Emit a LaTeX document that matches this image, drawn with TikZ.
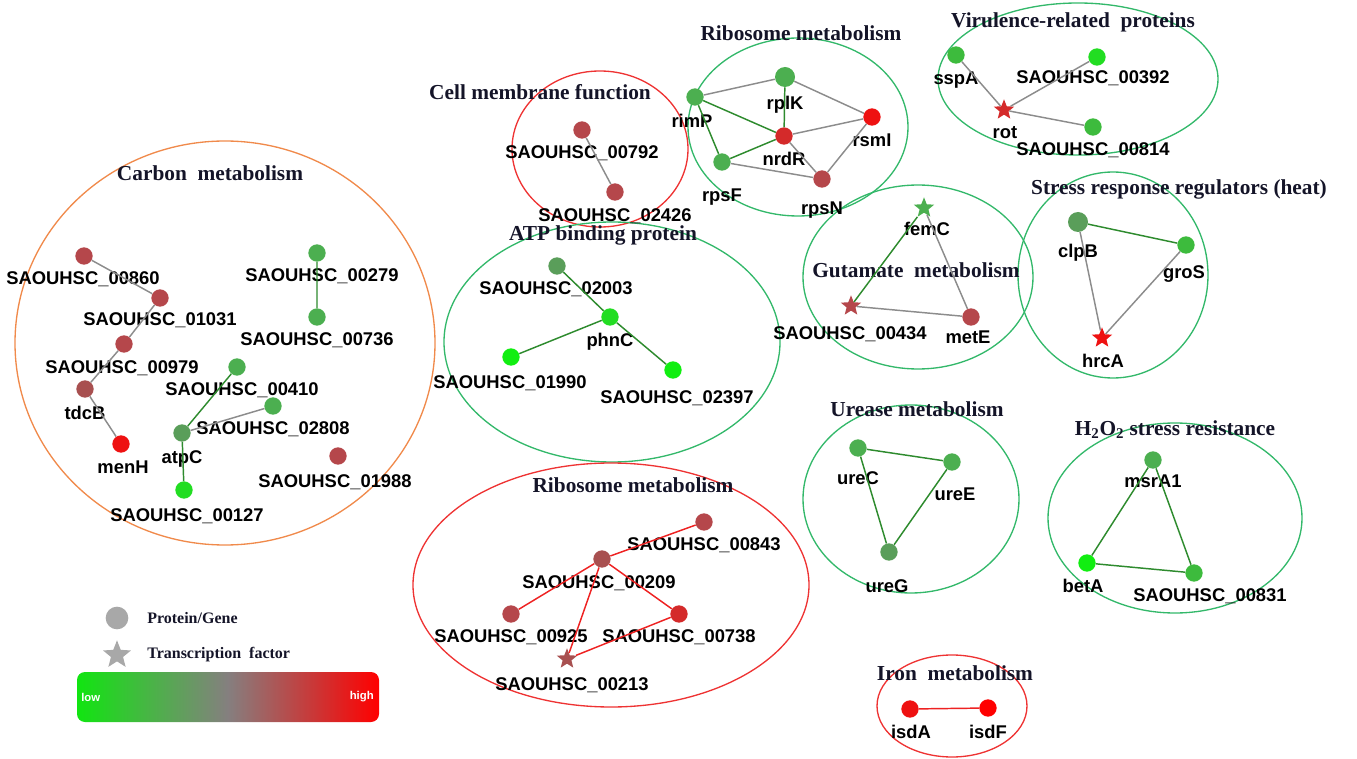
\documentclass[tikz,border=0pt]{standalone}
\usepackage{fontspec}
\setmainfont{Liberation Serif}
\newfontfamily\genefont{Liberation Sans}
\usetikzlibrary{shapes.geometric}

\definecolor{cHiRed}{HTML}{EE1111}
\definecolor{cMidRed}{HTML}{D42A2A}
\definecolor{cBrick}{HTML}{B5474B}
\definecolor{cDullRed}{HTML}{A85050}
\definecolor{cLime}{HTML}{11EE11}
\definecolor{cBright}{HTML}{22DD22}
\definecolor{cLeaf}{HTML}{3DBB3D}
\definecolor{cMid}{HTML}{4CAF50}
\definecolor{cDull}{HTML}{5A9E5A}
\definecolor{cEdgeGray}{HTML}{8C8C8C}
\definecolor{cEdgeGreen}{HTML}{2E8B2E}
\definecolor{cEdgeRed}{HTML}{EE2222}
\definecolor{cRingOrange}{HTML}{F08A4B}
\definecolor{cRingGreen}{HTML}{33B86A}
\definecolor{cRingRed}{HTML}{EE3333}
\definecolor{cTitle}{HTML}{141428}
\definecolor{cLegend}{HTML}{A8A8A8}
\definecolor{cBarLow}{HTML}{11E511}
\definecolor{cBarMid}{HTML}{857F7F}
\definecolor{cBarHigh}{HTML}{FF0000}

\begin{document}
\begin{tikzpicture}[x=0.75pt, y=-0.75pt,
  gene/.style={circle, inner sep=0pt, minimum size=13pt},
  tf/.style={star, star points=5, star point ratio=2.3, inner sep=0pt, minimum size=16pt},
  lbl/.style={font=\genefont\bfseries\fontsize{13.8}{15}\selectfont, inner sep=0pt, text height=9.9pt, text depth=0pt},
  ttl/.style={font=\bfseries\fontsize{16}{18}\selectfont, text=cTitle, inner sep=0pt, text height=10.6pt, text depth=0pt},
  lgray/.style={draw=cEdgeGray, line width=1.1pt},
  lgreen/.style={draw=cEdgeGreen, line width=1.1pt},
  lred/.style={draw=cEdgeRed, line width=1.1pt},
  ringO/.style={draw=cRingOrange, line width=1pt},
  ringG/.style={draw=cRingGreen, line width=1pt},
  ringR/.style={draw=cRingRed, line width=1pt}]
  \useasboundingbox (0,0) rectangle (1357,759);

  % group outlines
  \draw[ringO] (225,343) ellipse [x radius=210, y radius=202];
  \draw[ringR] (600,149) ellipse [x radius=88, y radius=78];
  \draw[ringG] (798,127) ellipse [x radius=110, y radius=89];
  \draw[ringG] (1078,79) ellipse [x radius=140, y radius=76];
  \draw[ringG] (612,342) ellipse [x radius=168, y radius=120];
  \draw[ringG] (918,277) ellipse [x radius=115, y radius=92];
  \draw[ringG] (1113,275) ellipse [x radius=95, y radius=103];
  \draw[ringR] (611,585) ellipse [x radius=198, y radius=122];
  \draw[ringG] (911,499) ellipse [x radius=108, y radius=94];
  \draw[ringG] (1175,518) ellipse [x radius=127, y radius=95];
  \draw[ringR] (952,706) ellipse [x radius=75, y radius=51];

  % Carbon metabolism
  \node[ttl] (tCarbon) at (210,173) {Carbon\ \ metabolism};
  \node[gene, fill=cBrick] (n00860) at (84,256) {};
  \node[lbl] (l00860) at (83,278) {SAOUHSC\_00860};
  \node[gene, fill=cBrick] (n01031) at (160,298) {};
  \node[lbl] (l01031) at (160,319) {SAOUHSC\_01031};
  \node[gene, fill=cBrick] (n00979) at (124,344) {};
  \node[lbl] (l00979) at (122,367) {SAOUHSC\_00979};
  \node[gene, fill=cDullRed] (tdcB) at (85,389) {};
  \node[lbl] (ltdcB) at (85,413) {tdcB};
  \node[gene, fill=cHiRed] (menH) at (121,444) {};
  \node[lbl] (lmenH) at (123,467) {menH};
  \node[gene, fill=cMid] (n00279) at (317,253) {};
  \node[lbl] (l00279) at (322,275) {SAOUHSC\_00279};
  \node[gene, fill=cMid] (n00736) at (317,317) {};
  \node[lbl] (l00736) at (317,339) {SAOUHSC\_00736};
  \node[gene, fill=cMid] (n00410) at (237,367) {};
  \node[lbl] (l00410) at (242,389) {SAOUHSC\_00410};
  \node[gene, fill=cMid] (n02808) at (273,406) {};
  \node[lbl] (l02808) at (273,428) {SAOUHSC\_02808};
  \node[gene, fill=cDull] (atpC) at (182,433) {};
  \node[lbl] (latpC) at (182,457) {atpC};
  \node[gene, fill=cBright] (n00127) at (184,490) {};
  \node[lbl] (l00127) at (187,515) {SAOUHSC\_00127};
  \node[gene, fill=cBrick] (n01988) at (338,456) {};
  \node[lbl] (l01988) at (335,481) {SAOUHSC\_01988};
  \draw[lgray] (n00860) -- (n01031) (n01031) -- (n00979) (n00979) -- (tdcB) (tdcB) -- (menH) (atpC) -- (n02808);
  \draw[lgreen] (n00279) -- (n00736) (n00410) -- (atpC) (atpC) -- (n00127);

  % Cell membrane function
  \node[ttl] (tMembrane) at (540,92) {Cell membrane\ function};
  \node[gene, fill=cBrick] (n00792) at (582,130) {};
  \node[lbl] (l00792) at (582,152) {SAOUHSC\_00792};
  \node[gene, fill=cBrick] (n02426) at (615,192) {};
  \node[lbl] (l02426) at (615,215) {SAOUHSC\_02426};
  \draw[lgray] (n00792) -- (n02426);

  % Ribosome metabolism (top)
  \node[ttl] (tRiboTop) at (801,33) {Ribosome metabolism};
  \node[gene, fill=cMid, minimum height=15pt] (rplK) at (785,77) {};
  \node[lbl] (lrplK) at (785,103) {rplK};
  \node[gene, fill=cMid] (rimP) at (695,97) {};
  \node[lbl] (lrimP) at (692,121) {rimP};
  \node[gene, fill=cHiRed] (rsmI) at (872,117) {};
  \node[lbl] (lrsmI) at (872,140) {rsmI};
  \node[gene, fill=cMidRed] (nrdR) at (784,136) {};
  \node[lbl] (lnrdR) at (784,159) {nrdR};
  \node[gene, fill=cMid] (rpsF) at (722,162) {};
  \node[lbl] (lrpsF) at (722,195) {rpsF};
  \node[gene, fill=cBrick] (rpsN) at (822,179) {};
  \node[lbl] (lrpsN) at (822,208) {rpsN};
  \draw[lgray] (rimP) -- (rplK) (rplK) -- (rsmI) (nrdR) -- (rsmI) (nrdR) -- (rpsN) (rsmI) -- (rpsN) (rpsF) -- (rpsN);
  \draw[lgreen] (rplK) -- (nrdR) (rimP) -- (nrdR) (rimP) -- (rpsF) (rpsF) -- (nrdR);

  % Virulence-related proteins
  \node[ttl] (tVirulence) at (1073,20) {Virulence-related\ \ proteins};
  \node[gene, fill=cLeaf] (sspA) at (956,55) {};
  \node[lbl] (lsspA) at (956,78) {sspA};
  \node[gene, fill=cBright] (n00392) at (1097,57) {};
  \node[lbl] (l00392) at (1093,77) {SAOUHSC\_00392};
  \node[tf, fill=cMidRed] (rot) at (1004,110) {};
  \node[lbl] (lrot) at (1005,132) {rot};
  \node[gene, fill=cLeaf] (n00814) at (1093,127) {};
  \node[lbl] (l00814) at (1093,149) {SAOUHSC\_00814};
  \draw[lgray] (sspA) -- (rot) (rot) -- (n00392) (rot) -- (n00814);

  % ATP binding protein
  \node[ttl] (tATP) at (603,233) {ATP binding\ protein};
  \node[gene, fill=cDull] (n02003) at (557,266) {};
  \node[lbl] (l02003) at (556,288) {SAOUHSC\_02003};
  \node[gene, fill=cBright] (phnC) at (610,317) {};
  \node[lbl] (lphnC) at (610,340) {phnC};
  \node[gene, fill=cLime] (n01990) at (511,357) {};
  \node[lbl] (l01990) at (510,382) {SAOUHSC\_01990};
  \node[gene, fill=cLime] (n02397) at (673,370) {};
  \node[lbl] (l02397) at (677,397) {SAOUHSC\_02397};
  \draw[lgreen] (n02003) -- (phnC) (phnC) -- (n02397) (phnC) -- (n01990);

  % Gutamate metabolism
  \node[ttl] (tGutamate) at (916,270) {Gutamate\ \ metabolism};
  \node[tf, fill=cMid] (femC) at (924,208) {};
  \node[lbl] (lfemC) at (927,229) {femC};
  \node[tf, fill=cBrick] (n00434) at (851,306) {};
  \node[lbl] (l00434) at (850,333) {SAOUHSC\_00434};
  \node[gene, fill=cBrick] (metE) at (971,317) {};
  \node[lbl] (lmetE) at (968,337) {metE};
  \draw[lgreen] (femC) -- (n00434);
  \draw[lgray] (femC) -- (metE) (n00434) -- (metE);

  % Stress response regulators (heat)
  \node[ttl] (tStress) at (1179,187) {Stress response regulators (heat)};
  \node[gene, fill=cDull, minimum height=15pt] (clpB) at (1078,222) {};
  \node[lbl] (lclpB) at (1078,251) {clpB};
  \node[gene, fill=cLeaf] (groS) at (1186,245) {};
  \node[lbl] (lgroS) at (1184,272) {groS};
  \node[tf, fill=cHiRed] (hrcA) at (1102,338) {};
  \node[lbl] (lhrcA) at (1103,361) {hrcA};
  \draw[lgreen] (clpB) -- (groS);
  \draw[lgray] (clpB) -- (hrcA) (groS) -- (hrcA);

  % Ribosome metabolism (bottom)
  \node[ttl] (tRiboBot) at (633,485) {Ribosome metabolism};
  \node[gene, fill=cBrick] (n00843) at (704,522) {};
  \node[lbl] (l00843) at (704,544) {SAOUHSC\_00843};
  \node[gene, fill=cDullRed] (n00209) at (602,559) {};
  \node[lbl] (l00209) at (599,582) {SAOUHSC\_00209};
  \node[gene, fill=cBrick] (n00925) at (511,614) {};
  \node[lbl] (l00925) at (511,636) {SAOUHSC\_00925};
  \node[gene, fill=cMidRed] (n00738) at (679,614) {};
  \node[lbl] (l00738) at (679,636) {SAOUHSC\_00738};
  \node[tf, fill=cDullRed] (n00213) at (567,659) {};
  \node[lbl] (l00213) at (572,684) {SAOUHSC\_00213};
  \draw[lred] (n00843) -- (n00209) (n00209) -- (n00925) (n00209) -- (n00213) (n00209) -- (n00738) (n00738) -- (n00213);

  % Urease metabolism
  \node[ttl] (tUrease) at (917,409) {Urease metabolism};
  \node[gene, fill=cMid] (ureC) at (858,448) {};
  \node[lbl] (lureC) at (858,478) {ureC};
  \node[gene, fill=cMid] (ureE) at (952,462) {};
  \node[lbl] (lureE) at (955,494) {ureE};
  \node[gene, fill=cDull] (ureG) at (889,552) {};
  \node[lbl] (lureG) at (887,586) {ureG};
  \draw[lgreen] (ureC) -- (ureE) (ureE) -- (ureG) (ureG) -- (ureC);

  % H2O2 stress resistance
  \node[ttl] (tPeroxide) at (1175,428) {H\textsubscript{2}O\textsubscript{2} stress resistance};
  \node[gene, fill=cMid] (msrA1) at (1153,460) {};
  \node[lbl] (lmsrA1) at (1153,481) {msrA1};
  \node[gene, fill=cLime] (betA) at (1087,563) {};
  \node[lbl] (lbetA) at (1083,586) {betA};
  \node[gene, fill=cLeaf] (n00831) at (1194,573) {};
  \node[lbl] (l00831) at (1210,595) {SAOUHSC\_00831};
  \draw[lgreen] (msrA1) -- (betA) (msrA1) -- (n00831) (betA) -- (n00831);

  % Iron metabolism
  \node[ttl] (tIron) at (955,673) {Iron\ \ metabolism};
  \node[gene, fill=cHiRed] (isdA) at (910,709) {};
  \node[lbl] (lisdA) at (911,732) {isdA};
  \node[gene, fill=cBarHigh] (isdF) at (988,708) {};
  \node[lbl] (lisdF) at (988,732) {isdF};
  \draw[lred] (isdA) -- (isdF);

  % legend
  \node[gene, fill=cLegend, minimum size=17pt] (legGene) at (117,618) {};
  \node[right, inner sep=0pt, font=\bfseries\fontsize{12}{14}\selectfont, text=cTitle] (legGeneTxt) at (147,618) {Protein/Gene};
  \node[tf, fill=cLegend, minimum size=22pt] (legTF) at (117,655) {};
  \node[right, inner sep=0pt, font=\bfseries\fontsize{12}{14}\selectfont, text=cTitle] (legTFTxt) at (147,655) {Transcription\ \ factor};
  \shade[rounded corners=6pt, left color=cBarLow, right color=cBarHigh, middle color=cBarMid] (77,672) rectangle (379,722);
  \node[right, inner sep=0pt, text=white, font=\genefont\bfseries\fontsize{8.5}{10}\selectfont] (legLow) at (81,697) {low};
  \node[left, inner sep=0pt, text=white, font=\genefont\bfseries\fontsize{8.5}{10}\selectfont] (legHigh) at (374,697) {high};
\end{tikzpicture}
\end{document}
